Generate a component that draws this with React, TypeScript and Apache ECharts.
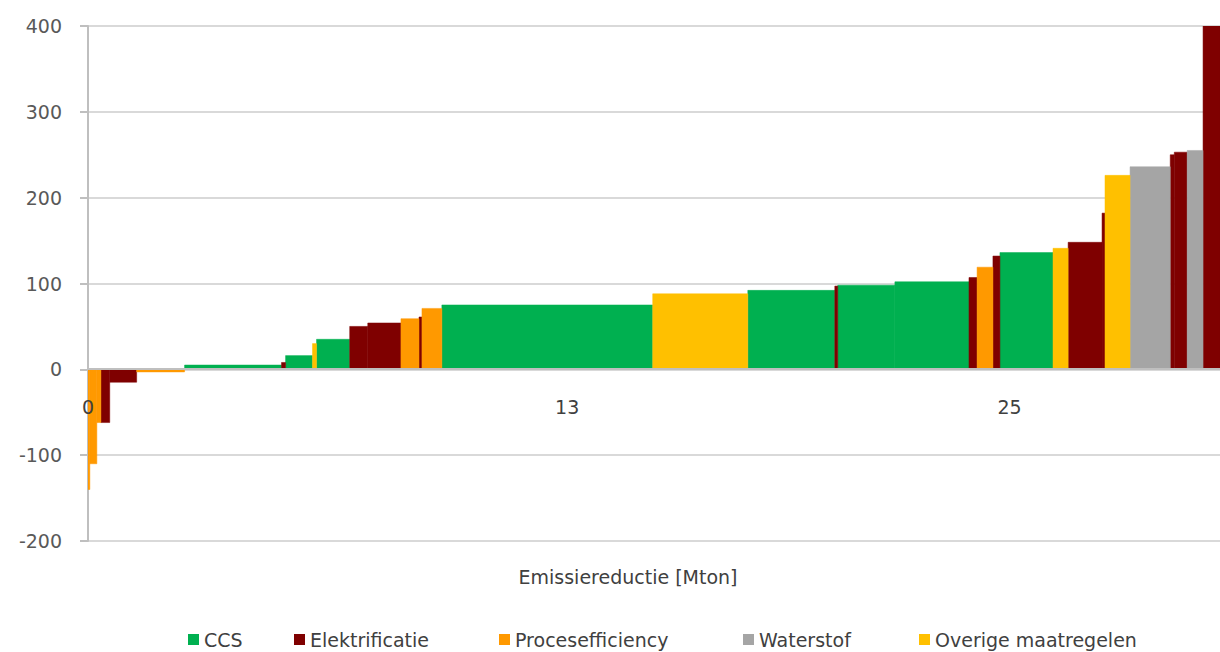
import React, { useEffect, useRef } from "react";
import * as echarts from "echarts";

// Measures, left to right (MACC): category, width in Mton, cost in EUR/ton
const measureCategory = [
  "Procesefficiency", "Procesefficiency", "Procesefficiency", "Elektrificatie", "Elektrificatie",
  "Procesefficiency", "CCS", "Elektrificatie", "CCS", "Overige maatregelen",
  "CCS", "Elektrificatie", "Elektrificatie", "Procesefficiency", "Elektrificatie",
  "Procesefficiency", "CCS", "Overige maatregelen", "CCS", "Elektrificatie",
  "CCS", "CCS", "Elektrificatie", "Procesefficiency", "Elektrificatie",
  "CCS", "Overige maatregelen", "Elektrificatie", "Elektrificatie", "Overige maatregelen",
  "Waterstof", "Elektrificatie", "Elektrificatie", "Waterstof", "Elektrificatie",
];
const measureWidth = [
  0.05, 0.19, 0.11, 0.24, 0.73,
  1.3, 2.63, 0.11, 0.73, 0.11,
  0.9, 0.49, 0.9, 0.49, 0.08,
  0.54, 5.72, 2.58, 2.36, 0.08,
  1.55, 2.01, 0.22, 0.43, 0.19,
  1.44, 0.41, 0.92, 0.08, 0.68,
  1.09, 0.11, 0.35, 0.43, 0.46,
];
const measureCost = [
  -140, -110, -62, -62, -15,
  -3, 5, 8, 16, 30,
  35, 50, 54, 59, 61,
  71, 75, 88, 92, 97,
  98, 102, 107, 119, 132,
  136, 141, 148, 182, 226,
  236, 250, 253, 255, 400,
];

const seriesNames = ["CCS", "Elektrificatie", "Procesefficiency", "Waterstof", "Overige maatregelen"];
const seriesColors = ["#00b050", "#7f0000", "#ff9900", "#a5a5a5", "#ffc000"];
const xTickLabels = [0, 13, 25];
const legendLeft = [183, 289, 494, 738, 914];

const FONT = "DejaVu Sans";

export default function App() {
  const ref = useRef<HTMLDivElement>(null);
  useEffect(() => {
    if (!ref.current) return;
    const chart = echarts.init(ref.current, undefined, { renderer: "svg" });

    const starts: number[] = [];
    let acc = 0;
    for (let i = 0; i < measureWidth.length; i++) {
      starts.push(acc);
      acc += measureWidth[i];
    }
    const total = acc;

    const series = seriesNames.map((name, si) => ({
      type: "custom",
      name,
      itemStyle: { color: seriesColors[si] },
      encode: { x: [0, 1], y: 2 },
      clip: true,
      data: measureCategory
        .map((c, i) => (c === name ? [starts[i], starts[i] + measureWidth[i], measureCost[i]] : null))
        .filter((d) => d !== null),
      renderItem: (params: any, api: any) => {
        const p0 = api.coord([api.value(0), api.value(2)]);
        const p1 = api.coord([api.value(1), 0]);
        return {
          type: "rect",
          shape: {
            x: p0[0],
            y: Math.min(p0[1], p1[1]),
            width: p1[0] - p0[0],
            height: Math.abs(p1[1] - p0[1]),
          },
          style: { fill: api.visual("color"), stroke: api.visual("color"), lineWidth: 0.5 },
        };
      },
    }));

    const legends = seriesNames.map((name, i) => ({
      data: [name],
      left: legendLeft[i],
      top: 625,
      icon: "rect",
      itemWidth: 11,
      itemHeight: 11,
      itemGap: 0,
      selectedMode: false,
      textStyle: { fontFamily: FONT, fontSize: 19, color: "#404040" },
    }));

    chart.setOption({
      animation: false,
      backgroundColor: "#ffffff",
      grid: { left: 88, right: 0, top: 26, bottom: 111, containLabel: false },
      legend: legends,
      xAxis: {
        type: "value",
        min: 0,
        max: total,
        interval: 1,
        position: "bottom",
        offset: -172,
        z: 5,
        axisLine: { onZero: false, lineStyle: { color: "#bfbfbf", width: 2 } },
        axisTick: { show: false },
        splitLine: { show: false },
        axisLabel: {
          margin: 28,
          fontFamily: FONT,
          fontSize: 19,
          color: "#404040",
          showMaxLabel: false,
          formatter: (v: number) =>
            xTickLabels.includes(Math.round(v)) && Math.abs(v - Math.round(v)) < 1e-6 ? String(Math.round(v)) : "",
        },
      },
      yAxis: {
        type: "value",
        min: -200,
        max: 400,
        interval: 100,
        axisLine: { show: true, onZero: false, lineStyle: { color: "#bfbfbf", width: 2 } },
        axisTick: { show: true, length: 8, lineStyle: { color: "#bfbfbf", width: 2 } },
        splitLine: { lineStyle: { color: "#d9d9d9", width: 2 } },
        axisLabel: { margin: 26, fontFamily: FONT, fontSize: 19, color: "#595959" },
      },
      graphic: [
        {
          type: "text",
          x: 628,
          y: 577,
          style: {
            text: "Emissiereductie [Mton]",
            fontFamily: FONT,
            fontSize: 19,
            fill: "#404040",
            textAlign: "center",
            textVerticalAlign: "middle",
          },
        },
      ],
      series,
    });
    return () => chart.dispose();
  }, []);
  return (
    <div
      ref={ref}
      style={{ position: "fixed", left: 0, top: 0, width: 1220, height: 652, background: "#fff" }}
    />
  );
}
